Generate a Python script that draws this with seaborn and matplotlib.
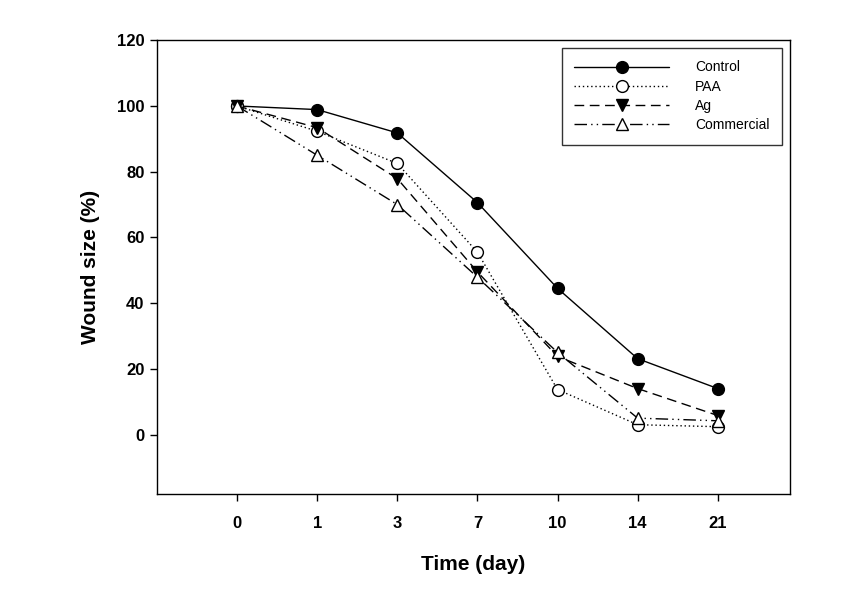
import numpy as np
import pandas as pd
import matplotlib
matplotlib.use("Agg")
import matplotlib.pyplot as plt
import seaborn as sns

# ── Data ──────────────────────────────────────────────────────────────────────
days = ["0", "1", "3", "7", "10", "14", "21"]
control = [100, 98.9, 91.8, 70.6, 44.5, 23.1, 14.0]
paa = [100, 92.3, 82.5, 55.5, 13.7, 3.0, 2.4]
ag = [100, 93.4, 77.9, 49.5, 23.8, 14.0, 5.8]
commercial = [100, 85.0, 70.0, 47.9, 25.0, 5.0, 4.2]

sns.set_theme(style="white")
plt.rcParams["font.family"] = ["Liberation Sans", "DejaVu Sans"]
plt.rcParams.update({"text.color": "black", "axes.labelcolor": "black",
                     "xtick.color": "black", "ytick.color": "black"})

df = pd.DataFrame({"pos": np.arange(len(days)), "Control": control,
                   "PAA": paa, "Ag": ag, "Commercial": commercial})

styles = {
    "Control": dict(linestyle="-", marker="o", markerfacecolor="black"),
    "PAA": dict(linestyle=(0, (1, 2)), marker="o", markerfacecolor="white"),
    "Ag": dict(linestyle=(0, (7, 4)), marker="v", markerfacecolor="black"),
    "Commercial": dict(linestyle=(0, (9, 3, 1, 3, 1, 3)), marker="^",
                       markerfacecolor="white"),
}

fig = plt.figure(figsize=(8.53, 5.92), dpi=100)
ax = fig.add_axes([0.184, 0.166, 0.742, 0.766])

for name, st in styles.items():
    sns.lineplot(data=df, x="pos", y=name, ax=ax, color="black", linewidth=1,
                 markersize=8.5, markeredgecolor="black", markeredgewidth=1,
                 label=name, **st)

ax.set_xlim(-1, 6.9)
ax.set_ylim(-18, 120)
ax.set_xticks(df["pos"])
ax.set_xticklabels(days)
ax.set_yticks(np.arange(0, 121, 20))

for sp in ax.spines.values():
    sp.set_color("black")
    sp.set_linewidth(1)
ax.tick_params(axis="both", which="both", direction="out", length=5, width=1,
               color="black", bottom=True, left=True, labelsize=12, pad=4)
ax.tick_params(axis="x", pad=11)
for lab in ax.get_xticklabels() + ax.get_yticklabels():
    lab.set_fontweight("bold")
ax.set_xlabel("Time (day)", fontsize=15, fontweight="bold", labelpad=17)
ax.set_ylabel("Wound size (%)", fontsize=15, fontweight="bold", labelpad=12)

leg = ax.legend(loc="upper right", bbox_to_anchor=(0.988, 0.983), fontsize=10,
                handlelength=6.8, frameon=True, fancybox=False, edgecolor="black",
                borderpad=0.9, labelspacing=0.38, handletextpad=1.9,
                borderaxespad=0)
leg.get_frame().set_linewidth(1)

fig.savefig("out.png", dpi=100)
